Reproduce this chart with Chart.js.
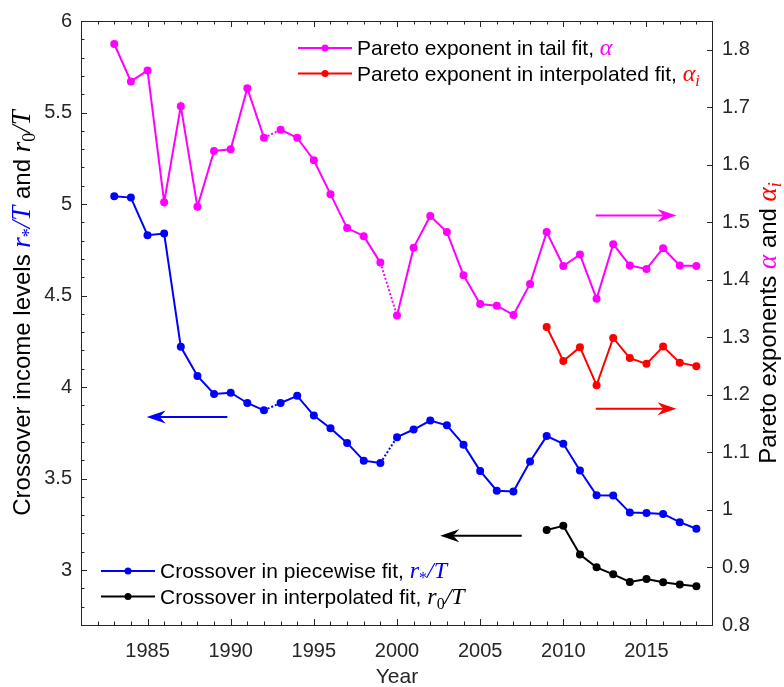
<!DOCTYPE html>
<html>
<head>
<meta charset="utf-8">
<script src="https://cdn.jsdelivr.net/npm/chart.js@4/dist/chart.umd.min.js"></script>
<style>
  body { margin: 0; background: #fff; }
  #wrap { width: 784px; height: 687px; position: relative; }
</style>
</head>
<body>
<div id="wrap"><canvas id="c"></canvas></div>
<script>
// data
const years = [1983, 1984, 1985, 1986, 1987, 1988, 1989, 1990, 1991, 1992, 1993, 1994,
               1995, 1996, 1997, 1998, 1999, 2000, 2001, 2002, 2003, 2004, 2005, 2006,
               2007, 2008, 2009, 2010, 2011, 2012, 2013, 2014, 2015, 2016, 2017, 2018];
const tailAlpha = [1.810, 1.745, 1.764, 1.535, 1.702, 1.527, 1.624, 1.627, 1.733, 1.647, 1.661, 1.647,
                   1.608, 1.549, 1.490, 1.476, 1.430, 1.338, 1.456, 1.511, 1.483, 1.408, 1.358, 1.355,
                   1.339, 1.393, 1.483, 1.424, 1.444, 1.367, 1.462, 1.425, 1.419, 1.455, 1.425, 1.424];
const piecewiseR = [5.042, 5.035, 4.830, 4.839, 4.220, 4.061, 3.962, 3.969, 3.913, 3.873, 3.913, 3.952,
                    3.844, 3.775, 3.695, 3.598, 3.585, 3.726, 3.768, 3.817, 3.791, 3.685, 3.542, 3.434,
                    3.430, 3.593, 3.732, 3.690, 3.544, 3.409, 3.407, 3.314, 3.312, 3.307, 3.262, 3.226];
const interpYears = [2009, 2010, 2011, 2012, 2013, 2014, 2015, 2016, 2017, 2018];
const interpAlpha = [1.318, 1.259, 1.283, 1.217, 1.299, 1.264, 1.254, 1.284, 1.256, 1.250];
const interpR = [3.219, 3.242, 3.085, 3.015, 2.977, 2.935, 2.951, 2.933, 2.921, 2.912];
// segments drawn dotted (start year of the gap)
const dottedFrom = [1992, 1999];

const xTicks = [1985, 1990, 1995, 2000, 2005, 2010, 2015];
const leftTicks = [3, 3.5, 4, 4.5, 5, 5.5, 6];
const rightTicks = [0.8, 0.9, 1, 1.1, 1.2, 1.3, 1.4, 1.5, 1.6, 1.7, 1.8];

const MAG = '#ff00ff', RED = '#ff0000', BLUE = '#0000ff', BLK = '#000000';
const TXT = '21px "Liberation Sans", Arial, sans-serif';
const MATH = 'italic 24px "Liberation Serif", serif';
const SUB = 'italic 16px "Liberation Serif", serif';
const SUBUP = '16px "Liberation Serif", serif';
// axis titles are a bit larger
const TTXT = '24px "Liberation Sans", Arial, sans-serif';
const TMATH = 'italic 27px "Liberation Serif", serif';
const TSUB = 'italic 18px "Liberation Serif", serif';
const TSUBUP = '18px "Liberation Serif", serif';
const AXC = '#262626';

function pts(xs, ys) { return xs.map((x, i) => ({x: x, y: ys[i]})); }

function lineSet(label, data, color, axis) {
  return {
    label: label, data: data, yAxisID: axis,
    borderColor: color, backgroundColor: color,
    borderWidth: 2, pointRadius: 4, pointHoverRadius: 4, pointBorderWidth: 0,
    tension: 0,
    segment: {
      borderDash: c => dottedFrom.includes(data[c.p0DataIndex].x) && data.length > 20 ? [2, 2] : undefined
    }
  };
}

// rich text: parts = [{t, font, color, dy}]
function richWidth(ctx, parts) {
  let w = 0;
  parts.forEach(p => { ctx.font = p.font; w += ctx.measureText(p.t).width; });
  return w;
}
function drawRich(ctx, parts, x, y, align) {
  let cx = x;
  if (align === 'center') cx = x - richWidth(ctx, parts) / 2;
  ctx.textBaseline = 'alphabetic';
  ctx.textAlign = 'left';
  parts.forEach(p => {
    ctx.font = p.font;
    ctx.fillStyle = p.color || BLK;
    ctx.fillText(p.t, cx, y + (p.dy || 0));
    cx += ctx.measureText(p.t).width;
  });
}

const T = (t) => ({t: t, font: TXT, color: BLK});
const M = (t, col) => ({t: t, font: MATH, color: col});
const S = (t, col, up) => ({t: t, font: up ? SUBUP : SUB, color: col, dy: 5});
const TT = (t) => ({t: t, font: TTXT, color: BLK});
const TM = (t, col) => ({t: t, font: TMATH, color: col});
const TS = (t, col, up) => ({t: t, font: up ? TSUBUP : TSUB, color: col, dy: 5});

const legendTop = [
  {color: MAG, parts: [T('Pareto exponent in tail fit, '), M('α', MAG)]},
  {color: RED, parts: [T('Pareto exponent in interpolated fit, '), M('α', RED), S('i', RED)]}
];
const legendBottom = [
  {color: BLUE, parts: [T('Crossover in piecewise fit, '), M('r', BLUE), S('*', BLUE, true), M('/T', BLUE)]},
  {color: BLK, parts: [T('Crossover in interpolated fit, '), M('r', BLK), S('0', BLK, true), M('/T', BLK)]}
];
const leftTitle = [TT('Crossover income levels '), TM('r', BLUE), TS('*', BLUE, true), TM('/T', BLUE),
                   TT(' and '), TM('r', BLK), TS('0', BLK, true), TM('/T', BLK)];
const rightTitle = [TT('Pareto exponents '), TM('α', MAG), TT(' and '), TM('α', RED), TS('i', RED)];

// arrows in data coordinates: which axis they point to
const arrows = [
  {axis: 'yR', x0: 2011.95, x1: 2016.8, y: 1.512, color: MAG},
  {axis: 'yR', x0: 2011.95, x1: 2016.8, y: 1.176, color: RED},
  {axis: 'yL', x0: 1989.8, x1: 1984.95, y: 3.837, color: BLUE},
  {axis: 'yL', x0: 2007.5, x1: 2002.6, y: 3.188, color: BLK}
];

function arrow(ctx, x0, x1, y, color) {
  const dir = x1 > x0 ? 1 : -1;
  const L = 19, H = 6.5, N = 6;
  ctx.strokeStyle = color; ctx.fillStyle = color; ctx.lineWidth = 2;
  ctx.beginPath(); ctx.moveTo(x0, y); ctx.lineTo(x1 - dir * N, y); ctx.stroke();
  ctx.beginPath();
  ctx.moveTo(x1, y);
  ctx.lineTo(x1 - dir * L, y - H);
  ctx.lineTo(x1 - dir * (L - N), y);
  ctx.lineTo(x1 - dir * L, y + H);
  ctx.closePath(); ctx.fill();
}

const decor = {
  id: 'decor',
  afterDraw(chart) {
    const ctx = chart.ctx, a = chart.chartArea;
    const sx = chart.scales.x, sl = chart.scales.yL, sr = chart.scales.yR;
    ctx.save();
    // box and inward ticks
    ctx.strokeStyle = AXC; ctx.lineWidth = 1;
    ctx.strokeRect(a.left + 0.5, a.top + 0.5, a.right - a.left - 1, a.bottom - a.top);
    ctx.beginPath();
    for (let yr = 1982; yr <= 2018; yr++) {
      const px = Math.round(sx.getPixelForValue(yr)) + 0.5;
      const len = yr % 5 === 0 ? 6 : 3.5;
      ctx.moveTo(px, a.bottom); ctx.lineTo(px, a.bottom - len);
      ctx.moveTo(px, a.top); ctx.lineTo(px, a.top + len);
    }
    for (let v = 27; v <= 60; v++) {
      const py = Math.round(sl.getPixelForValue(v / 10)) + 0.5;
      const len = v % 5 === 0 ? 6 : 3.5;
      ctx.moveTo(a.left, py); ctx.lineTo(a.left + len, py);
    }
    rightTicks.forEach(v => {
      const py = Math.round(sr.getPixelForValue(v)) + 0.5;
      ctx.moveTo(a.right, py); ctx.lineTo(a.right - 6, py);
    });
    ctx.stroke();

    // arrows
    arrows.forEach(r => {
      const sc = chart.scales[r.axis];
      arrow(ctx, sx.getPixelForValue(r.x0), sx.getPixelForValue(r.x1), sc.getPixelForValue(r.y), r.color);
    });

    // legends
    const drawLegend = (items, lx, ly, gap) => {
      items.forEach((it, i) => {
        const y = ly + i * gap;
        ctx.strokeStyle = it.color; ctx.fillStyle = it.color; ctx.lineWidth = 2;
        ctx.beginPath(); ctx.moveTo(lx, y); ctx.lineTo(lx + 54, y); ctx.stroke();
        ctx.beginPath(); ctx.arc(lx + 27, y, 3.5, 0, Math.PI * 2); ctx.fill();
        drawRich(ctx, it.parts, lx + 59, y + 7, 'left');
      });
    };
    drawLegend(legendTop, 298, 48, 25.5);
    drawLegend(legendBottom, 101, 571, 25.5);

    // axis titles
    const mid = (a.top + a.bottom) / 2;
    ctx.save();
    ctx.translate(22, mid - 10);
    ctx.rotate(-Math.PI / 2);
    drawRich(ctx, leftTitle, 0, 8, 'center');
    ctx.restore();
    ctx.save();
    ctx.translate(768, mid);
    ctx.rotate(-Math.PI / 2);
    drawRich(ctx, rightTitle, 0, 8, 'center');
    ctx.restore();

    ctx.font = TXT; ctx.fillStyle = AXC; ctx.textAlign = 'center'; ctx.textBaseline = 'middle';
    ctx.fillText('Year', (a.left + a.right) / 2, 677);
    ctx.restore();
  }
};

const fmt = v => String(+(+v).toFixed(2));
const tickFont = {family: '"Liberation Sans", Arial, sans-serif', size: 20};

new Chart(document.getElementById('c'), {
  type: 'line',
  data: {
    datasets: [
      lineSet('tail', pts(years, tailAlpha), MAG, 'yR'),
      lineSet('interpAlpha', pts(interpYears, interpAlpha), RED, 'yR'),
      lineSet('piecewise', pts(years, piecewiseR), BLUE, 'yL'),
      lineSet('interpR', pts(interpYears, interpR), BLK, 'yL')
    ]
  },
  options: {
    responsive: true, maintainAspectRatio: false, animation: false,
    layout: {padding: {top: 15, left: 0, right: 0, bottom: 0}},
    plugins: {legend: {display: false}, tooltip: {enabled: false}},
    scales: {
      x: {
        type: 'linear', min: 1981, max: 2019,
        grid: {display: false, drawTicks: false}, border: {display: false},
        afterBuildTicks: s => { s.ticks = xTicks.map(v => ({value: v})); },
        afterFit: s => { s.height = 62; },
        ticks: {color: AXC, font: tickFont, padding: 14, maxRotation: 0, callback: v => String(v)}
      },
      yL: {
        position: 'left', min: 2.7, max: 6,
        grid: {display: false, drawTicks: false}, border: {display: false},
        afterBuildTicks: s => { s.ticks = leftTicks.map(v => ({value: v})); },
        afterFit: s => { s.width = 81; },
        ticks: {color: AXC, font: tickFont, padding: 9, callback: fmt}
      },
      yR: {
        position: 'right', min: 0.8, max: 1.85,
        grid: {display: false, drawTicks: false}, border: {display: false},
        afterBuildTicks: s => { s.ticks = rightTicks.map(v => ({value: v})); },
        afterFit: s => { s.width = 71; },
        ticks: {color: AXC, font: tickFont, padding: 9, callback: fmt}
      }
    }
  },
  plugins: [decor]
});
</script>
</body>
</html>
